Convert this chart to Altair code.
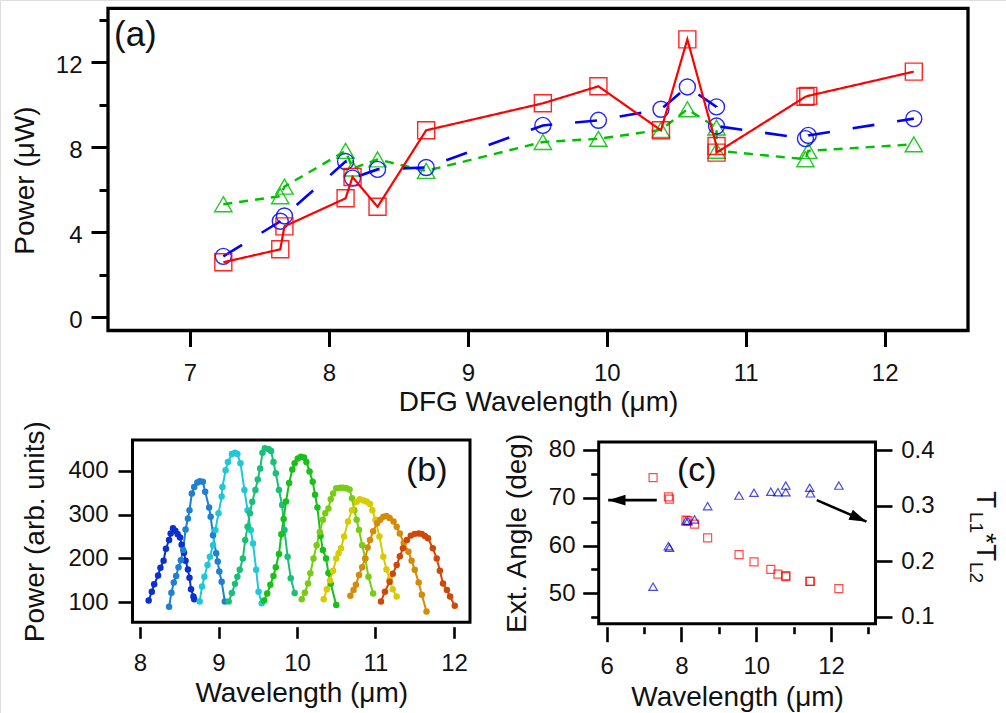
import altair as alt
import pandas as pd

FONT = "Liberation Sans"
INK = "#111111"
W, H = 1006, 713

# ---------------- panel (a): DFG power ----------------
dfg_wl = [7.24, 7.65, 7.68, 8.12, 8.17, 8.35, 8.70, 9.54, 9.94, 10.39, 10.58, 10.79, 10.79, 11.43, 11.45, 12.21]
power_red = [2.59, 3.20, 4.28, 5.60, 6.60, 5.20, 8.80, 10.07, 10.87, 8.80, 13.08, 8.06, 7.75, 10.38, 10.42, 11.56]
power_blue = [2.87, 4.52, 4.77, 7.33, 6.55, 6.96, 7.05, 9.03, 9.27, 9.79, 10.84, 9.90, 9.00, 8.41, 8.56, 9.35]
power_green = [5.32, 5.70, 6.15, 7.83, 7.00, 7.43, 6.89, 8.25, 8.40, 8.82, 9.79, 8.93, 7.84, 7.44, 7.83, 8.14]

# ---------------- panel (c): external angle and transmission ----------------
ext_angle = [74.2, 70.2, 69.7, 65.3, 65.2, 64.5, 61.6, 58.1, 56.6, 55.0, 54.0, 53.5, 53.7, 52.5, 52.5, 51.0]
t_product = [0.154, 0.227, 0.224, 0.272, 0.272, 0.275, 0.299, 0.318, 0.323, 0.325, 0.324, 0.336, 0.324, 0.332, 0.322, 0.336]
arrow_left_x = [7.34, 6.04]     # tail, tip (left-axis units)
arrow_left_y = [69.5, 69.5]
arrow_right_x = [11.62, 12.95]
arrow_right_y = [69.5, 65.0]

# ---------------- panel (b): tuning curves ----------------
scan1_wl = [8.11, 8.15, 8.18, 8.23, 8.26, 8.30, 8.33, 8.37, 8.39, 8.42, 8.45, 8.48, 8.51, 8.53, 8.56, 8.58, 8.61, 8.63, 8.65, 8.68, 8.69]
scan1_pw = [104, 124, 141, 161, 179, 195, 222, 242, 257, 269, 263, 255, 248, 231, 213, 195, 175, 156, 130, 113, 107]
scan2_wl = [8.37, 8.40, 8.43, 8.46, 8.49, 8.52, 8.55, 8.58, 8.61, 8.63, 8.66, 8.69, 8.73, 8.76, 8.80, 8.83, 8.88, 8.90, 8.93, 8.97, 8.99, 9.01, 9.04, 9.08]
scan2_pw = [90, 122, 145, 160, 180, 196, 219, 266, 291, 310, 348, 363, 373, 376, 375, 352, 316, 295, 253, 212, 193, 170, 147, 102]
scan3_wl = [8.76, 8.79, 8.82, 8.86, 8.89, 8.93, 8.96, 9.00, 9.04, 9.05, 9.09, 9.12, 9.17, 9.21, 9.24, 9.28, 9.33, 9.37, 9.41, 9.44, 9.48, 9.51, 9.55]
scan3_pw = [102, 136, 158, 185, 204, 230, 265, 303, 341, 363, 401, 420, 438, 441, 438, 417, 356, 310, 265, 234, 174, 124, 98]
scan4_wl = [9.13, 9.17, 9.21, 9.24, 9.27, 9.31, 9.34, 9.37, 9.40, 9.43, 9.47, 9.50, 9.53, 9.56, 9.59, 9.64, 9.67, 9.70, 9.73, 9.77, 9.81, 9.84, 9.88, 9.92, 9.97]
scan4_pw = [102, 121, 142, 158, 174, 200, 242, 272, 303, 329, 356, 380, 405, 441, 451, 449, 445, 420, 394, 356, 322, 265, 204, 155, 121]
scan5_wl = [9.58, 9.62, 9.66, 9.70, 9.73, 9.77, 9.80, 9.83, 9.86, 9.90, 9.94, 9.97, 10.01, 10.05, 10.09, 10.12, 10.16, 10.20, 10.23, 10.26, 10.30, 10.33, 10.37, 10.40, 10.43, 10.50]
scan5_pw = [104, 120, 140, 160, 180, 210, 255, 290, 330, 372, 403, 417, 428, 432, 430, 420, 398, 375, 345, 316, 251, 219, 200, 167, 142, 94]
scan6_wl = [10.06, 10.10, 10.14, 10.17, 10.21, 10.25, 10.29, 10.33, 10.36, 10.40, 10.43, 10.46, 10.50, 10.55, 10.59, 10.63, 10.67, 10.70, 10.73, 10.76, 10.79, 10.83, 10.87, 10.91, 10.97]
scan6_pw = [107, 122, 143, 166, 200, 230, 260, 288, 303, 314, 335, 348, 360, 361, 361, 360, 357, 337, 310, 288, 265, 230, 200, 158, 120]
scan7_wl = [10.34, 10.38, 10.42, 10.46, 10.50, 10.53, 10.56, 10.60, 10.65, 10.70, 10.76, 10.80, 10.85, 10.89, 10.93, 10.96, 11.00, 11.05, 11.10, 11.14, 11.18, 11.22, 11.27]
scan7_pw = [107, 130, 150, 172, 200, 212, 223, 250, 284, 310, 329, 335, 332, 329, 324, 310, 288, 250, 204, 175, 152, 130, 113]
scan8_wl = [10.68, 10.72, 10.75, 10.79, 10.83, 10.87, 10.90, 10.93, 10.97, 11.02, 11.06, 11.10, 11.14, 11.18, 11.23, 11.27, 11.31, 11.36, 11.42, 11.46, 11.50, 11.55, 11.59, 11.65]
scan8_pw = [115, 128, 140, 162, 180, 200, 225, 242, 262, 280, 288, 295, 297, 292, 284, 272, 257, 235, 215, 195, 174, 145, 117, 79]
scan9_wl = [11.07, 11.12, 11.18, 11.22, 11.27, 11.31, 11.35, 11.40, 11.45, 11.50, 11.55, 11.59, 11.63, 11.67, 11.73, 11.78, 11.82, 11.86, 11.91, 11.95, 12.01]
scan9_pw = [102, 124, 147, 165, 185, 205, 223, 242, 252, 256, 257, 256, 251, 246, 223, 200, 172, 143, 128, 113, 92]
scan_names = ["s1", "s2", "s3", "s4", "s5", "s6", "s7", "s8", "s9"]
scan_colors = ["#0a30d0", "#1f7fd0", "#1ec8d6", "#18c078", "#18c018", "#78cc14", "#d6cc00", "#d48c08", "#d04808"]
scans = [(scan1_wl, scan1_pw), (scan2_wl, scan2_pw), (scan3_wl, scan3_pw), (scan4_wl, scan4_pw),
         (scan5_wl, scan5_pw), (scan6_wl, scan6_pw), (scan7_wl, scan7_pw), (scan8_wl, scan8_pw),
         (scan9_wl, scan9_pw)]

# ---------------- layout (pixel geometry of each plot frame) ----------------
PA = dict(x0=108, x1=968, y0=8.3, y1=330.5, xd=[6.41, 12.6], yd=[-0.62, 14.54])
PB = dict(x0=132.5, x1=470, y0=440, y1=622.3, xd=[7.904, 12.204], yd=[54.4, 470])
PC = dict(x0=598.7, x1=875.5, y0=442, y1=623.8, xd=[5.786, 13.19], yd=[43.62, 81.67], yd2=[0.0872, 0.4144])


def sx(P):
    return alt.Scale(domain=P["xd"], range=[P["x0"], P["x1"]], nice=False, zero=False)


def sy(P, key="yd"):
    return alt.Scale(domain=P[key], range=[P["y1"], P["y0"]], nice=False, zero=False)


def axis(orient, offset, values, tick, pad, tw=3, labels=True, **kw):
    opts = dict(orient=orient, offset=offset, values=values, tickSize=tick, labelPadding=pad,
                domain=False, grid=False, ticks=True, tickColor="black", tickWidth=tw,
                labels=labels, labelFont=FONT, labelFontSize=24, labelColor=INK,
                labelFlush=False, labelOverlap=False,
                titleFont=FONT, titleFontSize=28, titleColor=INK, titleFontWeight="normal")
    opts.update(kw)
    return alt.Axis(**opts)


NOAX = None
layers = []

# ---------- panel (a) ----------
series_a = [
    ("green", power_green, "#00c000", [9, 7], 2.4, "triangle-up", 300),
    ("blue", power_blue, "#0000ff", [22, 23], 2.6, "circle", 256),
    ("red", power_red, "#ff0000", [1, 0], 2.2, "square", 289),
]
for i, (name, vals, col, dash, lw, shape, size) in enumerate(series_a):
    df = pd.DataFrame({"wl": dfg_wl, "p": vals, "idx": list(range(len(vals)))})
    first = i == 2
    xa = axis("bottom", PA["y1"] - H, [7, 8, 9, 10, 11, 12], 16, 14.5,
              title="DFG Wavelength (μm)", titleX=538, titleY=79.5, titleAngle=0,
              titleAlign="center", titleBaseline="alphabetic") if first else NOAX
    ya = axis("left", -PA["x0"], [0, 4, 8, 12], 17, 9, labelOffset=3,
              title="Power (μW)", titleX=33 - PA["x0"], titleY=180,
              titleAngle=-90, titleAlign="center", titleBaseline="alphabetic") if first else NOAX
    line = alt.Chart(df).mark_line(color=col, strokeWidth=lw, strokeDash=dash).encode(
        x=alt.X("wl:Q", scale=sx(PA), axis=xa, title="DFG Wavelength (μm)"),
        y=alt.Y("p:Q", scale=sy(PA), axis=ya, title="Power (μW)"),
        order=alt.Order("idx:Q"),
    )
    ya_minor = axis("left", -PA["x0"], [2, 6, 10, 14], 9, 9, labels=False, title="") if first else NOAX
    pts = alt.Chart(df).mark_point(shape=shape, size=size, filled=False, strokeWidth=1.4,
                                   color=col, opacity=0.85).encode(
        x=alt.X("wl:Q", scale=sx(PA), axis=NOAX),
        y=alt.Y("p:Q", scale=sy(PA), axis=ya_minor, title=""),
    )
    layers += [line, pts]

# ---------- panel (b) ----------
rows = []
for name, (wls, pws) in zip(scan_names, scans):
    for w_, p_ in zip(wls, pws):
        rows.append({"scan": name, "wl": w_, "pw": p_})
dfb = pd.DataFrame(rows)
cscale = alt.Scale(domain=scan_names, range=scan_colors)
xb = axis("bottom", 626.7 - H, [8, 9, 10, 11, 12], 11.6, 12.7, tw=2.6,
          title="Wavelength (μm)", titleX=(PB["x0"] + PB["x1"]) / 2, titleY=75, titleAngle=0,
          titleAlign="center", titleBaseline="alphabetic")
yb = axis("left", -PB["x0"], [100, 200, 300, 400], 14.5, 10, tw=2.6,
          title="Power (arb. units)", titleX=43 - PB["x0"], titleY=(PB["y0"] + PB["y1"]) / 2,
          titleAngle=-90, titleAlign="center", titleBaseline="alphabetic")
b_line = alt.Chart(dfb).mark_line(strokeWidth=2).encode(
    x=alt.X("wl:Q", scale=sx(PB), axis=xb, title="Wavelength (μm)"),
    y=alt.Y("pw:Q", scale=sy(PB), axis=yb, title="Power (arb. units)"),
    color=alt.Color("scan:N", scale=cscale, legend=None),
    detail="scan:N",
)
b_pts = alt.Chart(dfb).mark_circle(size=42, opacity=1).encode(
    x=alt.X("wl:Q", scale=sx(PB), axis=NOAX),
    y=alt.Y("pw:Q", scale=sy(PB), axis=NOAX),
    color=alt.Color("scan:N", scale=cscale, legend=None),
)
layers += [b_line, b_pts]

# ---------- panel (c) ----------
dfc = pd.DataFrame({"wl": dfg_wl, "ang": ext_angle, "t": t_product})
xc = axis("bottom", 626.7 - H, [6, 8, 10, 12], 15, 12.5, tw=2.6,
          title="Wavelength (μm)", titleX=(PC["x0"] + PC["x1"]) / 2, titleY=78.5, titleAngle=0,
          titleAlign="center", titleBaseline="alphabetic")
xc_minor = axis("bottom", 626.7 - H, [7, 9, 11, 13], 7, 12.5, tw=2.6, labels=False, title="")
yc = axis("left", -PC["x0"], [50, 60, 70, 80], 16, 7.7, tw=2.6,
          title="Ext. Angle (deg)", titleX=525 - PC["x0"], titleY=(PC["y0"] + PC["y1"]) / 2,
          titleAngle=-90, titleAlign="center", titleBaseline="alphabetic")
yc_minor = axis("left", -PC["x0"], [45, 55, 65, 75], 8, 7.7, tw=2.6, labels=False, title="")
yc2 = axis("right", PC["x1"] - W, [0.1, 0.2, 0.3, 0.4], 16.5, 8.7, tw=2.6, format=".1f", title="")

c_sq = alt.Chart(dfc).mark_point(shape="square", size=64, filled=False, color="#ff0000", strokeWidth=1.2).encode(
    x=alt.X("wl:Q", scale=sx(PC), axis=xc, title="Wavelength (μm)"),
    y=alt.Y("ang:Q", scale=sy(PC), axis=yc, title="Ext. Angle (deg)"),
)
c_tri = alt.Chart(dfc).mark_point(shape="triangle-up", size=72, filled=False, color="#0000dd", strokeWidth=1.2).encode(
    x=alt.X("wl:Q", scale=sx(PC), axis=xc_minor, title=""),
    y=alt.Y("t:Q", scale=sy(PC, "yd2"), axis=yc2, title=""),
)
arr = pd.DataFrame({
    "x": [arrow_left_x[0], arrow_right_x[0]], "x2": [arrow_left_x[1], arrow_right_x[1]],
    "y": [arrow_left_y[0], arrow_right_y[0]], "y2": [arrow_left_y[1], arrow_right_y[1]],
    "ang": [180, 23.5],
})
c_arrow = alt.Chart(arr).mark_rule(color="black", strokeWidth=2.6).encode(
    x=alt.X("x:Q", scale=sx(PC), axis=NOAX), x2="x2:Q",
    y=alt.Y("y:Q", scale=sy(PC), axis=yc_minor, title=""), y2="y2:Q",
)
c_head = alt.Chart(arr).mark_point(shape="M0,0L-2,-0.62L-2,0.62Z", size=300, filled=True,
                                   color="black", opacity=1).encode(
    x=alt.X("x2:Q", scale=sx(PC), axis=NOAX),
    y=alt.Y("y2:Q", scale=sy(PC), axis=NOAX),
    angle=alt.Angle("ang:Q", scale=None),
)
layers += [c_sq, c_tri, c_arrow, c_head]

# ---------- frames and labels ----------
one = pd.DataFrame({"k": [0]})
for P, sw in [(PA, 3.3), (PB, 3), (PC, 3)]:
    layers.append(alt.Chart(one).mark_rect(fill="transparent", stroke="black", strokeWidth=sw).encode(
        x=alt.value(P["x0"]), x2=alt.value(P["x1"]), y=alt.value(P["y0"]), y2=alt.value(P["y1"])))


def txt(s, x, y, size, angle=0, align="left", baseline="alphabetic"):
    return alt.Chart(one).mark_text(text=s, font=FONT, fontSize=size, color=INK, align=align,
                                    baseline=baseline, angle=angle).encode(
        x=alt.value(x), y=alt.value(y))


layers += [
    txt("(a)", 114, 46, 35),
    txt("(b)", 406, 481, 34),
    txt("(c)", 677, 481, 34),
    # right axis title of (c): T_L1 * T_L2, reading downward
    txt("T", 977, 491, 28, angle=90),
    txt("L1", 970, 512, 19, angle=90),
    txt("*T", 977, 533, 28, angle=90),
    txt("L2", 970, 562, 19, angle=90),
]

chart = alt.layer(*layers).resolve_scale(x="independent", y="independent").properties(
    width=W, height=H, autosize=alt.AutoSizeParams(type="none"), padding=0
).configure_view(strokeWidth=0).configure(background="white")

chart.save("out.html", embed_options={"renderer": "svg", "actions": False})
